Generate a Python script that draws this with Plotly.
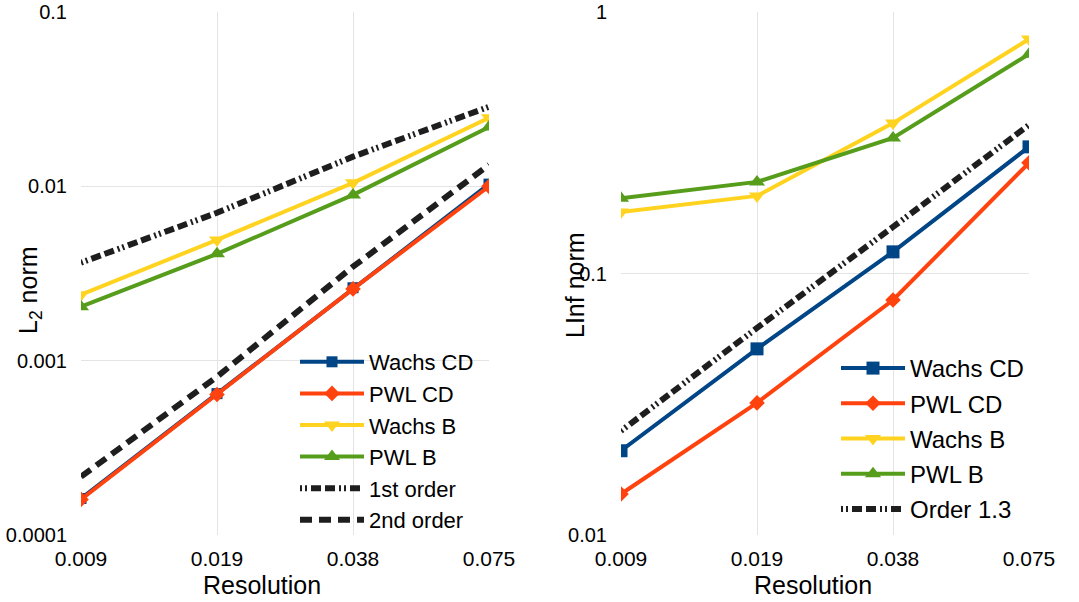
import plotly.graph_objects as go

resolution = ["0.009", "0.019", "0.038", "0.075"]

# L2 norm (left)
l2_wachs_cd = [1.62e-4, 6.47e-4, 2.62e-3, 0.0103]
l2_pwl_cd = [1.60e-4, 6.40e-4, 2.58e-3, 0.0100]
l2_wachs_b = [2.39e-3, 4.93e-3, 0.01047, 0.0247]
l2_pwl_b = [2.04e-3, 4.10e-3, 8.93e-3, 0.0219]
l2_first_order = [3.65e-3, 7.05e-3, 0.0148, 0.0286]
l2_second_order = [2.16e-4, 8.09e-4, 3.46e-3, 0.01328]

# LInf norm (right)
li_wachs_cd = [0.0210, 0.0515, 0.121, 0.305]
li_pwl_cd = [0.01435, 0.0320, 0.0792, 0.265]
li_wachs_b = [0.172, 0.198, 0.376, 0.788]
li_pwl_b = [0.194, 0.224, 0.330, 0.690]
li_order13 = [0.0250, 0.0619, 0.1507, 0.370]

C_WCD = "#004586"
C_PCD = "#ff420e"
C_WB = "#ffd320"
C_PB = "#579d1c"
C_REF = "#1e1e1e"
DASH1 = "2px,3px,2px,4px,10px,4px,10px,4px"
DASH2 = "12px,7px"

W, H = 1079, 602
FONT = "Liberation Sans, Arial, sans-serif"

fig = go.Figure()

def series(x, y, name, color, symbol, size, xa, ya, legend, group):
    fig.add_trace(go.Scatter(
        x=x, y=y, name=name, mode="lines+markers",
        line=dict(color=color, width=4),
        marker=dict(symbol=symbol, size=size, color=color),
        xaxis=xa, yaxis=ya, legend=legend, legendgroup=group))

def refline(x, y, name, dash, xa, ya, legend, group):
    fig.add_trace(go.Scatter(
        x=x, y=y, name=name, mode="lines",
        line=dict(color=C_REF, width=6, dash=dash),
        xaxis=xa, yaxis=ya, legend=legend, legendgroup=group))

series(resolution, l2_wachs_cd, "Wachs CD", C_WCD, "square", 11, "x", "y", "legend", "a1")
series(resolution, l2_pwl_cd, "PWL CD", C_PCD, "diamond", 12, "x", "y", "legend", "a2")
series(resolution, l2_wachs_b, "Wachs B", C_WB, "triangle-down", 14, "x", "y", "legend", "a3")
series(resolution, l2_pwl_b, "PWL B", C_PB, "triangle-up", 14, "x", "y", "legend", "a4")
refline(resolution, l2_first_order, "1st order", DASH1, "x", "y", "legend", "a5")
refline(resolution, l2_second_order, "2nd order", DASH2, "x", "y", "legend", "a6")

series(resolution, li_wachs_cd, "Wachs CD", C_WCD, "square", 13, "x2", "y2", "legend2", "b1")
series(resolution, li_pwl_cd, "PWL CD", C_PCD, "diamond", 12, "x2", "y2", "legend2", "b2")
series(resolution, li_wachs_b, "Wachs B", C_WB, "triangle-down", 14, "x2", "y2", "legend2", "b3")
series(resolution, li_pwl_b, "PWL B", C_PB, "triangle-up", 14, "x2", "y2", "legend2", "b4")
refline(resolution, li_order13, "Order 1.3", DASH1, "x2", "y2", "legend2", "b5")

def px_x(p):
    return p / W

def px_y(p):
    return 1 - p / H

grid = "#e4e4e4"
xcommon = dict(type="category", range=[0, 3], showgrid=True, gridcolor=grid, gridwidth=1,
               showline=False, zeroline=False, ticks="outside", ticklen=5,
               tickcolor="rgba(0,0,0,0)", tickfont=dict(family=FONT, size=21, color="#000"),
               fixedrange=True, automargin=False, ticklabeloverflow="allow")
ycommon = dict(type="log", showgrid=True, gridcolor=grid, gridwidth=1, showline=False,
               zeroline=False, ticks="outside", ticklen=9, tickcolor="rgba(0,0,0,0)",
               tickfont=dict(family=FONT, size=20, color="#000"), automargin=False,
               ticklabeloverflow="allow")

legcommon = dict(bgcolor="rgba(0,0,0,0)", itemwidth=64, traceorder="grouped",
                 xanchor="left", yanchor="top", itemclick=False)

fig.update_layout(
    width=W, height=H,
    margin=dict(l=0, r=0, t=0, b=0, autoexpand=False),
    paper_bgcolor="white", plot_bgcolor="white",
    font=dict(family=FONT, color="#000"),
    xaxis=dict(domain=[px_x(81), px_x(489)], anchor="y", **xcommon),
    xaxis2=dict(domain=[px_x(621), px_x(1029)], anchor="y2", **xcommon),
    yaxis=dict(domain=[px_y(535), px_y(12)], anchor="x", range=[-4, -1],
               tickvals=[1e-4, 1e-3, 1e-2, 1e-1], ticktext=["0.0001", "0.001", "0.01", "0.1"],
               **ycommon),
    yaxis2=dict(domain=[px_y(535), px_y(12)], anchor="x2", range=[-2, 0],
                tickvals=[0.01, 0.1, 1], ticktext=["0.01", "0.1", "1"], **ycommon),
    legend=dict(x=px_x(295), y=px_y(341), tracegroupgap=0,
                font=dict(family=FONT, size=22, color="#000"), **legcommon),
    legend2=dict(x=px_x(836), y=px_y(346), tracegroupgap=1,
                 font=dict(family=FONT, size=24, color="#000"), **legcommon),
    showlegend=True,
)

ann_font = dict(family=FONT, size=25, color="#000")
fig.add_annotation(text="Resolution", x=px_x(262), y=px_y(585), xref="paper", yref="paper",
                   showarrow=False, font=ann_font, xanchor="center", yanchor="middle")
fig.add_annotation(text="Resolution", x=px_x(813), y=px_y(585), xref="paper", yref="paper",
                   showarrow=False, font=ann_font, xanchor="center", yanchor="middle")
fig.add_annotation(text="L<sub>2</sub> norm", x=px_x(30), y=px_y(290), xref="paper", yref="paper",
                   showarrow=False, font=ann_font, textangle=-90, xanchor="center", yanchor="middle")
fig.add_annotation(text="LInf norm", x=px_x(575), y=px_y(285), xref="paper", yref="paper",
                   showarrow=False, font=ann_font, textangle=-90, xanchor="center", yanchor="middle")

fig.write_html("out.html")
